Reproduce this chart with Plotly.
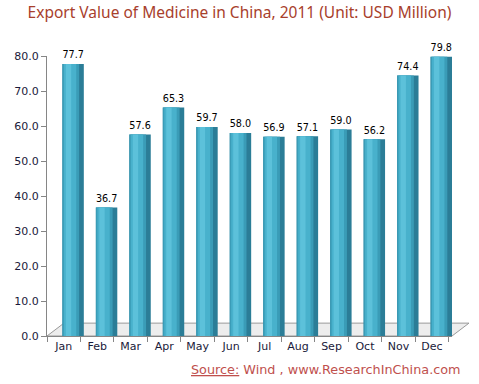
import plotly.graph_objects as go

months = ["Jan", "Feb", "Mar", "Apr", "May", "Jun", "Jul", "Aug", "Sep", "Oct", "Nov", "Dec"]
values = [77.7, 36.7, 57.6, 65.3, 59.7, 58.0, 56.9, 57.1, 59.0, 56.2, 74.4, 79.8]
y_ticks = [0, 10, 20, 30, 40, 50, 60, 70, 80]

title_text = "Export Value of Medicine in China, 2011 (Unit: USD Million)"
source_text = "<u>Source:</u> Wind , www.ResearchInChina.com"

FONT = "DejaVu Sans"
fig = go.Figure()

# cylinder-like bar built from layered bars (shading bands)
layers = [
    # (width, offset, color)
    (0.64, -0.04, "#2B7D97"),
    (0.50, -0.04, "#3A9CB7"),
    (0.37, 0.004, "#48B1CC"),
    (0.16, 0.063, "#5CC1DA"),
]
for i, (w, off, col) in enumerate(layers):
    fig.add_trace(go.Bar(
        x=months, y=values,
        width=w, offset=off,
        marker=dict(color=col, line=dict(width=0)),
        text=[f"{v:.1f}" for v in values] if i == 0 else None,
        textposition="outside" if i == 0 else "none",
        textfont=dict(family=FONT, size=11, color="#000000"),
        cliponaxis=False,
        hoverinfo="skip",
        showlegend=False,
    ))

# 3D floor decoration
fig.add_shape(type="path", xref="paper", yref="paper",
              path="M 0 0 L 1 0 L 1.042 0.046 L 0.042 0.046 Z",
              fillcolor="#EDEDED", line=dict(color="#9A9A9A", width=1), layer="below")

fig.add_annotation(text=source_text, xref="paper", yref="paper",
                   x=1.027, y=-0.121, xanchor="right", yanchor="middle",
                   showarrow=False,
                   font=dict(family=FONT, size=12.8, color="#C0504D"))

fig.update_layout(
    width=479, height=384,
    margin=dict(l=47, r=27, t=56, b=48),
    paper_bgcolor="white", plot_bgcolor="white",
    barmode="overlay",
    title=dict(text=title_text, x=0.5, xref="container", xanchor="center",
               y=0.966, yref="container", yanchor="middle",
               font=dict(family="Noto Sans", size=15.5, color="#A8402C")),
    xaxis=dict(showline=True, linecolor="#868686", linewidth=1,
               ticks="outside", ticklen=5, tickcolor="#868686",
               tickson="boundaries", showgrid=False,
               tickfont=dict(family=FONT, size=11, color="#1A1A3A")),
    yaxis=dict(range=[0, 80], tickvals=y_ticks, tickformat=".1f",
               showline=True, linecolor="#868686", linewidth=1,
               ticks="outside", ticklen=5, tickcolor="#868686",
               showgrid=False, zeroline=False,
               tickfont=dict(family=FONT, size=11, color="#1A1A3A")),
)

fig.write_html("out.html", config={"displayModeBar": False},
               post_script="document.body.style.margin='0';")
